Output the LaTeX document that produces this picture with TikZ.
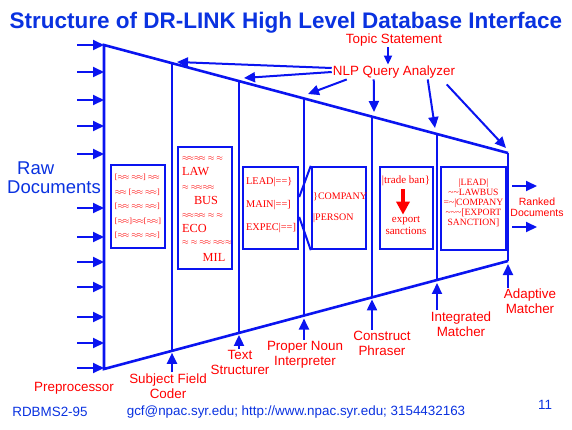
\documentclass[tikz,border=0pt]{standalone}
\usepackage{fontspec}
\setmainfont{Liberation Serif}
\setsansfont{Liberation Sans}
\usetikzlibrary{arrows.meta,positioning,calc}
\definecolor{pipe}{HTML}{0A14F0}
\definecolor{heading}{HTML}{0A32E0}
\definecolor{stage}{HTML}{FF0000}
\newcommand{\wv}{\ensuremath{\approx\!\approx}}
\newcommand{\wa}{\ensuremath{\approx}}

\begin{document}
\begin{tikzpicture}[x=1pt,y=-1pt,
  wall/.style={pipe,line width=2.6pt},
  divider/.style={pipe,line width=2pt},
  card/.style={draw=pipe,line width=2.4pt,inner sep=0pt},
  feed/.style={pipe,line width=2pt,-{Triangle[length=11pt,width=10pt]}},
  stagelbl/.style={text=stage,font=\sffamily\fontsize{13.4}{15}\selectfont,align=center,inner sep=1pt},
  cardtxt/.style={text=stage,inner sep=0pt},
  wavy/.style={text=stage,font=\fontsize{8}{14.5}\selectfont,inner sep=0pt,align=left}]
  \useasboundingbox (0,0) rectangle (572,429);

  % Title
  \node[font=\sffamily\bfseries\fontsize{22.5}{26}\selectfont,text=heading,anchor=base,inner sep=0pt] (title) at (286,28) {Structure of DR-LINK High Level Database Interface};

  % Funnel outline
  \coordinate (tl) at (104,45);
  \coordinate (tr) at (508,153);
  \coordinate (br) at (508,261);
  \coordinate (bl) at (104,369);
  \draw[wall] (tr) -- (tl) -- (bl) -- (br);
  \draw[divider] (tr) -- (br);
  \coordinate (s7) at (br);

  % Stage dividers
  \foreach \x/\n in {172/2,239/3,304/4,372/5,437/6}{
    \coordinate (t\n) at (\x,{45+(\x-104)*0.2673});
    \coordinate (s\n) at (\x,{369-(\x-104)*0.2673});
    \draw[divider] (t\n) -- (s\n);
  }

  % Raw documents coming in
  \foreach \y [count=\i] in {45,72,100,126,154,208,237,262,287,317,343,368}{
    \coordinate (in\i) at (77,\y);
    \draw[feed] (in\i) -- (in\i -| tl);
  }
  \node[text=heading,font=\sffamily\fontsize{18.5}{20}\selectfont,anchor=west,inner sep=0pt] (raw) at (17,168) {Raw};
  \node[text=heading,font=\sffamily\fontsize{18.5}{20}\selectfont,anchor=west,inner sep=0pt] (docs) at (7,187) {Documents};

  % Cards inside the stages
  \node[card,minimum width=54pt,minimum height=83pt] (c1) at (138,206.5) {};
  \node[card,minimum width=54pt,minimum height=122pt] (c2) at (205,208) {};
  \node[card,minimum width=55pt,minimum height=82pt] (c3) at (270.5,208) {};
  \node[card,minimum width=54pt,minimum height=82pt] (c4) at (339,208) {};
  \node[card,minimum width=53pt,minimum height=82pt] (c5) at (406.5,208) {};
  \node[card,minimum width=65pt,minimum height=83pt] (c6) at (473.5,208.5) {};
  \draw[pipe,line width=2pt] ([yshift=11pt]c3.east) -- (c4.north west);
  \draw[pipe,line width=2pt] ([yshift=-9pt]c3.east) -- (c4.south west);

  % Card texts
  \node[wavy] (w1) at (c1) {{[}\wv\ \wv] \wv\\ \wv\ [\wv\ \wv]\\ {[}\wv\ \wv\ \wv]\\ {[}\wv]\wv[\wv]\\ {[}\wv\ \wv\ \wv]};

  \node[wavy,anchor=west] (w2a) at (182,158) {\wv\wv\ \wa\ \wa};
  \node[cardtxt,font=\fontsize{12.3}{13}\selectfont,anchor=west] (law) at (182,172) {LAW};
  \node[wavy,anchor=west] (w2b) at (182,187) {\wa\ \wv\wv};
  \node[cardtxt,font=\fontsize{12.3}{13}\selectfont] (bus) at (206,200) {BUS};
  \node[wavy,anchor=west] (w2c) at (182,215) {\wv\wv\ \wa\ \wa};
  \node[cardtxt,font=\fontsize{12.3}{13}\selectfont,anchor=west] (eco) at (182,228) {ECO};
  \node[wavy,anchor=west] (w2d) at (182,242) {\wa\ \wa\ \wv\ \wv\wa};
  \node[cardtxt,font=\fontsize{12.3}{13}\selectfont] (mil) at (214,257) {MIL};

  \node[cardtxt,font=\fontsize{10.3}{23}\selectfont,align=left,anchor=west] (lead) at (246,205) {LEAD|==\}\\MAIN|==]\\EXPEC|==]};
  \node[cardtxt,font=\fontsize{10}{21}\selectfont,align=left,anchor=west] (comp) at (313,207.5) {\}COMPANY\\|PERSON};

  \node[cardtxt,font=\fontsize{11}{12}\selectfont] (tb) at (406,181) {|trade ban\}};
  \node[cardtxt,font=\fontsize{11}{12}\selectfont,align=center] (es) at (406,225) {export\\sanctions};
  \draw[stage,line width=3.5pt,-{Triangle[length=13pt,width=13pt]},shorten <=3pt,shorten >=1pt] ([xshift=-3pt]tb.south) -- ([xshift=-3pt]es.north);

  \node[cardtxt,font=\fontsize{9.6}{10}\selectfont,align=center] (hits) at (473.5,203) {|LEAD|\\\textasciitilde\textasciitilde LAWBUS\\=\textasciitilde|COMPANY\\\textasciitilde\textasciitilde\textasciitilde{[}EXPORT\\SANCTION]};

  % Ranked output
  \coordinate (rk1) at (537,186);
  \coordinate (rk2) at (537,227);
  \draw[feed,shorten <=5pt] (c6.east |- rk1) -- (rk1);
  \draw[feed,shorten <=5pt] (c6.east |- rk2) -- (rk2);
  \node[stagelbl,font=\sffamily\fontsize{10.5}{11.5}\selectfont] (ranked) at (537,207) {Ranked\\Documents};

  % Query side
  \node[stagelbl] (topic) at (394,40) {Topic Statement};
  \node[stagelbl] (nlp) at (394,72) {NLP Query Analyzer};
  \draw[feed,-{Triangle[length=9pt,width=8pt]}] ([xshift=-6pt]topic.south) -- ([xshift=-6pt]nlp.north);
  \coordinate (q1) at (177,62);
  \coordinate (q2) at (244,78);
  \coordinate (q3) at (308,94);
  \coordinate (q4) at (374,112);
  \coordinate (q5) at (435,128);
  \coordinate (q6) at (506,148);
  \draw[feed] ([yshift=4pt]nlp.west) -- (q1);
  \draw[feed] (nlp.west) -- (q2);
  \draw[feed] ([xshift=15pt]nlp.south west) -- (q3);
  \draw[feed] ([xshift=42pt]nlp.south west) -- (q4);
  \draw[feed] ([xshift=96pt]nlp.south west) -- (q5);
  \draw[feed] ([xshift=115pt,yshift=-5pt]nlp.south west) -- (q6);

  % Stage names
  \node[stagelbl] (pre) at (74,388) {Preprocessor};
  \node[stagelbl] (sfc) at (168,386) {Subject Field\\Coder};
  \node[stagelbl] (ts) at (240,362.5) {Text\\Structurer};
  \node[stagelbl] (pni) at (305,354.5) {Proper Noun\\Interpreter};
  \node[stagelbl] (cp) at (382,343) {Construct\\Phraser};
  \node[stagelbl] (im) at (461,324) {Integrated\\Matcher};
  \node[stagelbl] (am) at (530,301.5) {Adaptive\\Matcher};
  \draw[feed,shorten >=2pt] (sfc.north -| s2) -- (s2);
  \draw[feed,shorten >=2pt] (ts.north -| s3) -- (s3);
  \draw[feed,shorten >=3pt] (pni.north -| s4) -- (s4);
  \draw[feed,shorten >=2pt] (cp.north -| s5) -- (s5);
  \draw[feed,shorten >=3pt] (im.north -| s6) -- (s6);
  \draw[feed,shorten >=3pt] (am.north -| s7) -- (s7);

  % Footer
  \node[text=heading,font=\sffamily\fontsize{13.4}{15}\selectfont] (tag) at (50,412) {RDBMS2-95};
  \node[text=heading,font=\sffamily\fontsize{13.4}{15}\selectfont] (mail) at (296,412) {gcf@npac.syr.edu; http://www.npac.syr.edu; 3154432163};
  \node[text=heading,font=\sffamily\fontsize{13.4}{15}\selectfont] (page) at (545,405) {11};
\end{tikzpicture}
\end{document}
